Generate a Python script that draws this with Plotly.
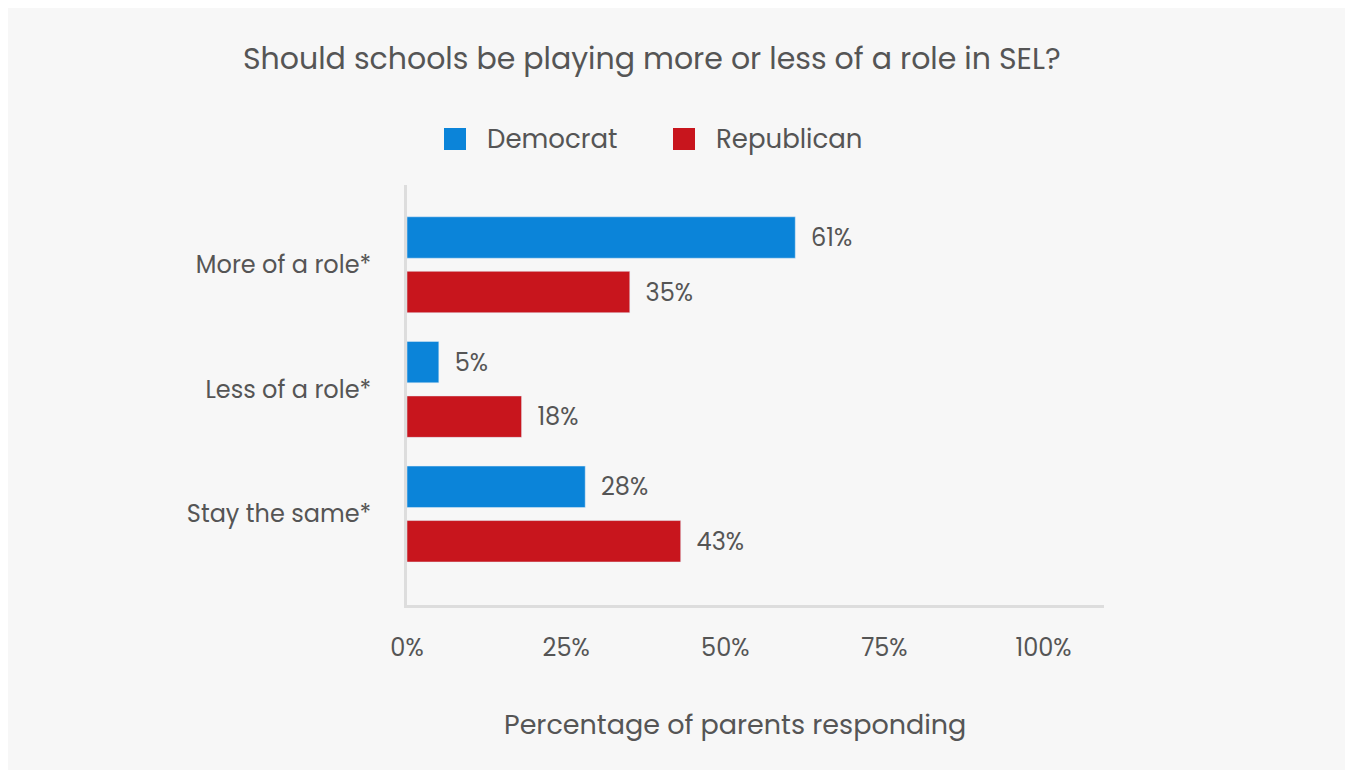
import plotly.graph_objects as go

categories = ["More of a role*", "Less of a role*", "Stay the same*"]
democrat = [61, 5, 28]
republican = [35, 18, 43]
series_names = ["Democrat", "Republican"]
series_colors = ["#0b84d9", "#c8151d"]
x_ticks = [0, 25, 50, 75, 100]
x_tick_labels = ["0%", "25%", "50%", "75%", "100%"]

FONT = "Poppins, Inter, 'Noto Sans', sans-serif"
TXT = "#555555"

fig = go.Figure()
for name, vals, col in zip(series_names, [democrat, republican], series_colors):
    fig.add_trace(go.Bar(
        y=categories, x=vals, name=name, orientation="h",
        marker=dict(color=col),
        texttemplate="  %{x}%", textposition="outside", cliponaxis=False,
        textfont=dict(size=24, color=TXT, family=FONT),
        showlegend=False,
    ))

# page coordinates (figure sits at an 8px body offset)
OFF = 8
FW, FH = 1337, 762
L, R, T, B = 407, 1104, 185, 605
W, H = R - L, B - T

def px(x):
    return (x - L) / W

def py(y):
    return (B - y) / H

fig.add_annotation(text="Should schools be playing more or less of a role in SEL?",
                   xref="paper", yref="paper", x=px(652), y=py(59),
                   xanchor="center", yanchor="middle", showarrow=False,
                   font=dict(size=30, color=TXT, family=FONT))
fig.add_annotation(text="Percentage of parents responding",
                   xref="paper", yref="paper", x=px(735), y=py(724),
                   xanchor="center", yanchor="middle", showarrow=False,
                   font=dict(size=27, color=TXT, family=FONT))

# legend drawn as squares + labels
legend_sq_x = [444, 673]
for name, col, sx in zip(series_names, series_colors, legend_sq_x):
    fig.add_shape(type="rect", xref="paper", yref="paper",
                  x0=px(sx), x1=px(sx + 22), y0=py(150), y1=py(128),
                  fillcolor=col, line=dict(width=0))
    fig.add_annotation(text=name, xref="paper", yref="paper",
                       x=px(sx + 41), y=py(139), xanchor="left", yanchor="middle",
                       showarrow=False, font=dict(size=26, color=TXT, family=FONT))

fig.update_layout(
    width=FW, height=FH,
    margin=dict(l=L - OFF, r=OFF + FW - R, t=T - OFF, b=OFF + FH - B),
    paper_bgcolor="#f7f7f7", plot_bgcolor="#f7f7f7",
    barmode="group", bargap=0.125, bargroupgap=0.24,
    font=dict(family=FONT, color=TXT),
    showlegend=False,
)
fig.update_xaxes(range=[0, 109.5], tickvals=x_ticks, ticktext=x_tick_labels,
                 showgrid=False, zeroline=False, showline=True, linecolor="#dddddd", linewidth=3,
                 ticks="", ticklabelstandoff=19,
                 tickfont=dict(size=24, color=TXT, family=FONT))
fig.update_yaxes(range=[2.73, -0.64], showgrid=False, zeroline=False,
                 showline=True, linecolor="#dddddd", linewidth=3,
                 ticks="", ticklabelstandoff=28,
                 tickfont=dict(size=24, color=TXT, family=FONT))

fig.write_html("out.html")
